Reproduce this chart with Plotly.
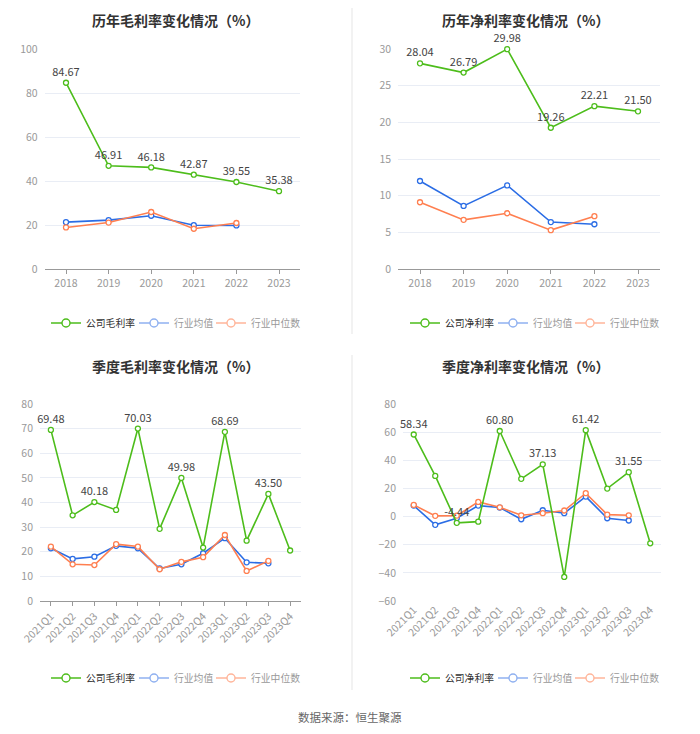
import plotly.graph_objects as go

# ---- data ----
years = ['2018', '2019', '2020', '2021', '2022', '2023']
gross_company = [84.67, 46.91, 46.18, 42.87, 39.55, 35.38]
gross_ind_avg = [21.3, 22.2, 24.2, 19.9, 19.8]
gross_ind_med = [18.9, 21.1, 25.9, 18.3, 20.9]

net_company = [28.04, 26.79, 29.98, 19.26, 22.21, 21.50]
net_ind_avg = [12.0, 8.6, 11.4, 6.4, 6.1]
net_ind_med = [9.1, 6.7, 7.6, 5.3, 7.2]

quarters = ['2021Q1', '2021Q2', '2021Q3', '2021Q4', '2022Q1', '2022Q2',
            '2022Q3', '2022Q4', '2023Q1', '2023Q2', '2023Q3', '2023Q4']
q_gross_company = [69.48, 34.8, 40.18, 37.0, 70.03, 29.3, 49.98, 21.7, 68.69, 24.5, 43.50, 20.5]
q_gross_ind_avg = [21.4, 17.1, 18.0, 22.4, 21.4, 13.2, 14.9, 19.4, 25.5, 15.7, 15.3]
q_gross_ind_med = [22.1, 14.9, 14.6, 23.1, 22.1, 12.9, 15.9, 17.8, 26.8, 12.2, 16.3]

q_net_company = [58.34, 28.9, -4.44, -3.6, 60.80, 26.8, 37.13, -42.9, 61.42, 19.9, 31.55, -19.0]
q_net_ind_avg = [7.8, -5.9, -1.2, 7.8, 6.4, -1.9, 4.5, 2.4, 14.2, -1.2, -2.8]
q_net_ind_med = [8.3, 0.5, 0.7, 10.4, 6.6, 0.9, 2.4, 4.3, 16.6, 1.4, 0.9]

GREEN = '#4dbd1b'
BLUE = '#2b6de5'
ORANGE = '#ff7f50'
FONT = 'Noto Sans CJK SC'

# page has an 8px body margin, so the figure is a bit smaller and offset
OFF = 8
W, H = 700 - OFF, 734 - OFF


def px(x):
    return (x - OFF) / W


def py(y):
    return 1 - (y - OFF) / H


fig = go.Figure()

panels = [
    dict(title='历年毛利率变化情况（%）', x=years, c=gross_company, a=gross_ind_avg, m=gross_ind_med,
         name='公司毛利率', yr=[0, 100], dt=20, xd=[44.7, 300.3], yd=[269, 49], every=1,
         leg_x=[80, 168, 245], leg_y=323),
    dict(title='历年净利率变化情况（%）', x=years, c=net_company, a=net_ind_avg, m=net_ind_med,
         name='公司净利率', yr=[0, 30], dt=5, xd=[398.2, 659.8], yd=[269, 49], every=1,
         leg_x=[439, 527, 604], leg_y=323),
    dict(title='季度毛利率变化情况（%）', x=quarters, c=q_gross_company, a=q_gross_ind_avg, m=q_gross_ind_med,
         name='公司毛利率', yr=[0, 80], dt=10, xd=[40, 301], yd=[601, 404], every=2,
         leg_x=[80, 168, 245], leg_y=678),
    dict(title='季度净利率变化情况（%）', x=quarters, c=q_net_company, a=q_net_ind_avg, m=q_net_ind_med,
         name='公司净利率', yr=[-60, 80], dt=20, xd=[403, 661], yd=[601, 404], every=2,
         leg_x=[439, 527, 604], leg_y=678),
]

leg_count = 0
for i, p in enumerate(panels):
    n = i + 1
    xa = 'x' if n == 1 else f'x{n}'
    ya = 'y' if n == 1 else f'y{n}'
    labels = [f'{v:.2f}' if k % p['every'] == 0 else '' for k, v in enumerate(p['c'])]

    for vals, col in [(p['a'], BLUE), (p['m'], ORANGE)]:
        fig.add_trace(go.Scatter(
            x=p['x'][:len(vals)], y=vals, mode='lines+markers', xaxis=xa, yaxis=ya,
            line=dict(color=col, width=1.6),
            marker=dict(symbol='circle', size=5, color='white', line=dict(color=col, width=1.3)),
            showlegend=False, hoverinfo='x+y'))
    fig.add_trace(go.Scatter(
        x=p['x'], y=p['c'], mode='lines+markers+text', xaxis=xa, yaxis=ya,
        text=labels, textposition='top center',
        textfont=dict(size=11, color='#444', family=FONT),
        line=dict(color=GREEN, width=1.6),
        marker=dict(symbol='circle', size=5, color='white', line=dict(color=GREEN, width=1.3)),
        showlegend=False, cliponaxis=False, hoverinfo='x+y'))

    # legend entries, one small legend per item so the spacing matches
    items = [(p['name'], GREEN, '#333'), ('行业均值', '#8fb0f0', '#999'), ('行业中位数', '#ffb59a', '#999')]
    for (nm, col, txt), lx in zip(items, p['leg_x']):
        leg_count += 1
        lg = 'legend' if leg_count == 1 else f'legend{leg_count}'
        fig.add_trace(go.Scatter(
            x=[None], y=[None], mode='lines+markers', xaxis=xa, yaxis=ya,
            name=f'<span style="color:{txt}">{nm}</span>',
            line=dict(color=col, width=1.6),
            marker=dict(symbol='circle', size=8, color='white', line=dict(color=col, width=1.4)),
            legend=lg, showlegend=True))
        fig.update_layout({lg: dict(
            orientation='h', xanchor='left', yanchor='middle',
            x=px(lx - 34), y=py(p['leg_y']),
            font=dict(size=9.8, color='#333', family=FONT),
            itemwidth=30, bgcolor='rgba(0,0,0,0)', borderwidth=0)})

    quarterly = p['every'] == 2
    fig.update_layout({
        f'xaxis{"" if n == 1 else n}': dict(
            domain=[px(p['xd'][0]), px(p['xd'][1])], anchor=ya, type='category',
            categoryorder='array', categoryarray=p['x'], range=[-0.5, len(p['x']) - 0.5],
            showgrid=False, showline=(n != 4), linecolor='#999', linewidth=1,
            ticks='' if n == 4 else 'outside', ticklen=4, tickcolor='#999',
            tickfont=dict(size=10.5, color='#999', family=FONT),
            tickangle=-45 if quarterly else 0, fixedrange=True,
            automargin=False),
        f'yaxis{"" if n == 1 else n}': dict(
            domain=[py(p['yd'][0]), py(p['yd'][1])], anchor=xa, range=p['yr'], dtick=p['dt'],
            showgrid=True, gridcolor='#e9edf5', gridwidth=1,
            zeroline=False, showline=False, ticklabelstandoff=6,
            tickfont=dict(size=10.5, color='#999', family=FONT), fixedrange=True,
            automargin=False),
    })

    fig.add_annotation(
        text=f'<b>{p["title"]}</b>', xref='paper', yref='paper',
        x=px(175) if n % 2 == 1 else px(525), y=py(20) if n <= 2 else py(366),
        xanchor='center', yanchor='middle', showarrow=False,
        font=dict(size=14, color='#333', family=FONT))

# chart 4: axis line with ticks sitting on the zero value
p4 = panels[3]
zero_frac = (0 - p4['yr'][0]) / (p4['yr'][1] - p4['yr'][0])
y4_dom = [py(p4['yd'][0]), py(p4['yd'][1])]
fig.update_layout(xaxis5=dict(
    overlaying='x4', anchor='free', position=y4_dom[0] + zero_frac * (y4_dom[1] - y4_dom[0]),
    domain=[px(p4['xd'][0]), px(p4['xd'][1])],
    range=[-0.5, len(quarters) - 0.5], tickvals=list(range(len(quarters))),
    showticklabels=False, showgrid=False, zeroline=False,
    showline=True, linecolor='#999', linewidth=1,
    ticks='outside', ticklen=4, tickcolor='#999', fixedrange=True, automargin=False))

# separators between panels
fig.add_shape(type='line', xref='paper', yref='paper', x0=px(352), x1=px(352), y0=py(0), y1=py(334),
              line=dict(color='#f2f2f2', width=2))
fig.add_shape(type='line', xref='paper', yref='paper', x0=px(352), x1=px(352), y0=py(355), y1=py(690),
              line=dict(color='#f2f2f2', width=2))

fig.add_annotation(
    text='数据来源：恒生聚源', xref='paper', yref='paper', x=px(350), y=py(717),
    xanchor='center', yanchor='middle', showarrow=False,
    font=dict(size=11.5, color='#666', family=FONT))

fig.update_layout(
    width=W, height=H,
    margin=dict(l=0, r=0, t=0, b=0, autoexpand=False),
    paper_bgcolor='white', plot_bgcolor='white',
    font=dict(family=FONT),
)

fig.write_html("out.html")
